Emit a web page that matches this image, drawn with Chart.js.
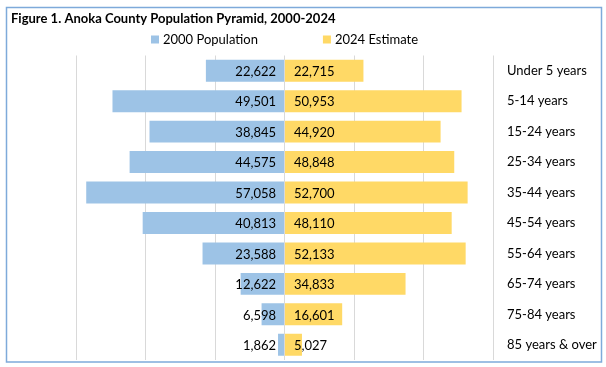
<!DOCTYPE html>
<html><head><meta charset="utf-8">
<script src="https://cdn.jsdelivr.net/npm/chart.js@4"></script>
<style>html,body{margin:0;padding:0;background:#fff}canvas{display:block}</style>
</head><body>
<canvas id="c" width="606" height="367"></canvas>
<script>
const titleText = "Figure 1. Anoka County Population Pyramid, 2000-2024";
const categories = ["Under 5 years","5-14 years","15-24 years","25-34 years","35-44 years","45-54 years","55-64 years","65-74 years","75-84 years","85 years & over"];
const pop2000 = [22622,49501,38845,44575,57058,40813,23588,12622,6598,1862];
const est2024 = [22715,50953,44920,48848,52700,48110,52133,34833,16601,5027];
const seriesNames = ["2000 Population","2024 Estimate"];
const xTickValues = [-60000,-40000,-20000,0,20000,40000,60000];
const colors = ["#9DC3E6","#FFD966"];
const FONT = "Lato";
const fmt = v => Math.abs(v).toLocaleString('en-US');

const decor = {
  id: 'decor',
  beforeDraw(chart) {
    const ctx = chart.ctx;
    ctx.save();
    ctx.fillStyle = '#fff';
    ctx.fillRect(0, 0, chart.width, chart.height);
    ctx.restore();
  },
  afterDatasetsDraw(chart) {
    const ctx = chart.ctx;
    ctx.save();
    ctx.font = `13px ${FONT}`;
    ctx.fillStyle = '#000';
    ctx.textBaseline = 'middle';
    chart.data.datasets.forEach((ds, di) => {
      const meta = chart.getDatasetMeta(di);
      meta.data.forEach((el, i) => {
        const base = el.base;
        if (di === 0) { ctx.textAlign = 'right'; ctx.fillText(fmt(ds.data[i]), base - 8, el.y + 1); }
        else { ctx.textAlign = 'left'; ctx.fillText(fmt(ds.data[i]), base + 9, el.y + 1); }
      });
    });
    ctx.restore();
  },
  afterDraw(chart) {
    const ctx = chart.ctx;
    const area = chart.chartArea;
    ctx.save();
    ctx.font = `bold 13px ${FONT}`;
    ctx.fillStyle = '#000';
    ctx.textAlign = 'left';
    ctx.textBaseline = 'middle';
    ctx.fillText(titleText, 11, 18.5);
    ctx.font = `13px ${FONT}`;
    const box = 8, gap = 4, itemGap = 65;
    const w0 = ctx.measureText(seriesNames[0]).width;
    const w1 = ctx.measureText(seriesNames[1]).width;
    const total = box + gap + w0 + itemGap + box + gap + w1;
    let x = (area.left + area.right) / 2 - total / 2;
    const cy = 39.5;
    [0, 1].forEach(k => {
      ctx.fillStyle = colors[k];
      ctx.fillRect(x, cy - box / 2, box, box);
      x += box + gap;
      ctx.fillStyle = '#000';
      ctx.fillText(seriesNames[k], x, cy);
      x += (k === 0 ? w0 : w1) + itemGap;
    });
    ctx.strokeStyle = '#7EAADA';
    ctx.lineWidth = 1.5;
    ctx.strokeRect(6.5, 7.5, 595, 354.5);
    ctx.restore();
  }
};

new Chart(document.getElementById('c'), {
  type: 'bar',
  data: {
    labels: categories,
    datasets: [
      { label: seriesNames[0], data: pop2000.map(v => -v), backgroundColor: colors[0], borderWidth: 0 },
      { label: seriesNames[1], data: est2024, backgroundColor: colors[1], borderWidth: 0 }
    ]
  },
  options: {
    indexAxis: 'y',
    responsive: false,
    animation: false,
    layout: { padding: { top: 55.5, left: 76, right: 0, bottom: 7 } },
    datasets: { bar: { categoryPercentage: 1, barPercentage: 0.72 } },
    plugins: { legend: { display: false }, title: { display: false }, tooltip: { enabled: false } },
    scales: {
      x: {
        stacked: true,
        min: xTickValues[0], max: xTickValues[xTickValues.length - 1],
        afterBuildTicks: s => { s.ticks = xTickValues.map(v => ({ value: v })); },
        ticks: { display: false },
        grid: { color: '#D9D9D9', lineWidth: 1, drawTicks: false },
        border: { display: false },
        afterFit: s => { s.height = 0; s.paddingLeft = 0; s.paddingRight = 0; }
      },
      y: {
        stacked: true,
        position: 'right',
        grid: { display: false, drawTicks: false },
        border: { display: false },
        ticks: { font: { family: FONT, size: 13 }, color: '#000', padding: 14 },
        afterFit: s => { s.width = 113; s.paddingTop = 0; s.paddingBottom = 0; }
      }
    }
  },
  plugins: [decor]
});
</script>
</body></html>
